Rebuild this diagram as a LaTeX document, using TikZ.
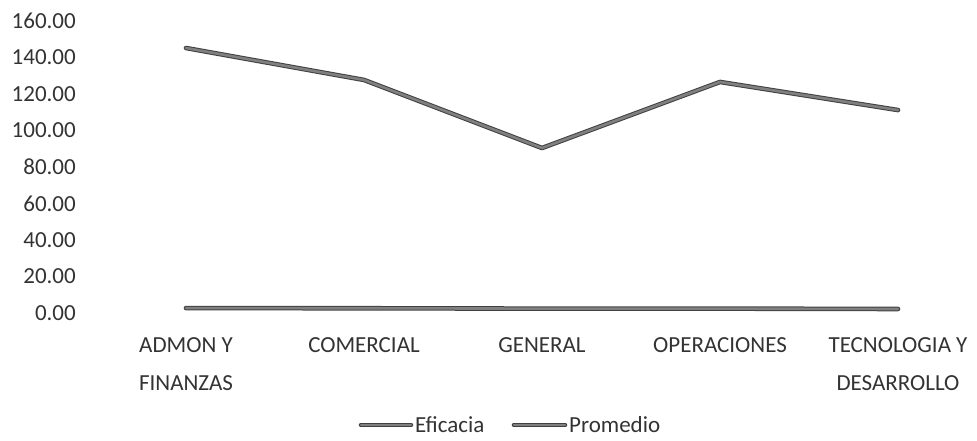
\documentclass[tikz,border=0pt]{standalone}
\usepackage{fontspec}
\setmainfont{Carlito}

\begin{document}
\begin{tikzpicture}
    [x = 1pt, y = -1pt, every node/.style = {inner sep = 0pt, text = black!80, font = \fontsize{23}{38}\selectfont},
     serie/.style = {draw = black!75, line width = 1pt, double = black!50, double distance = 2.6pt, line join = round, line cap = round}]
    \useasboundingbox (0,0) rectangle (977,440);

    % eje de valores
    \foreach \v in {0,20,...,160}
      \node[anchor = east] (y\v) at (76, 313-1.825*\v) {\v.00};

    % categorias
    \node[anchor = north, align = center] (c1) at (186,337) {ADMON Y\\FINANZAS};
    \node[anchor = north, align = center] (c2) at (364,337) {COMERCIAL};
    \node[anchor = north, align = center] (c3) at (542,337) {GENERAL};
    \node[anchor = north, align = center] (c4) at (720,337) {OPERACIONES};
    \node[anchor = north, align = center] (c5) at (898,337) {TECNOLOGIA Y\\DESARROLLO};

    % series
    \foreach \n/\x/\v in {1/186/145.2, 2/364/127.7, 3/542/90.4, 4/720/126.6, 5/898/111.2}
      \coordinate (e\n) at (\x, 313-1.825*\v);
    \foreach \n/\x/\v in {1/186/2.7, 2/364/2.6, 3/542/2.4, 4/720/2.4, 5/898/2.2}
      \coordinate (p\n) at (\x, 313-1.825*\v);

    \draw[serie] (e1) -- (e2) -- (e3) -- (e4) -- (e5);
    \draw[serie] (p1) -- (p2) -- (p3) -- (p4) -- (p5);

    % leyenda
    \coordinate (l1) at (361,425);
    \coordinate (l2) at (514,425);
    \node[anchor = west] (t1) at (415,425) {Eficacia};
    \node[anchor = west] (t2) at (569,425) {Promedio};
    \draw[serie] (l1) -- ([xshift = -4pt]t1.west);
    \draw[serie] (l2) -- ([xshift = -4pt]t2.west);
  \end{tikzpicture}
\end{document}
